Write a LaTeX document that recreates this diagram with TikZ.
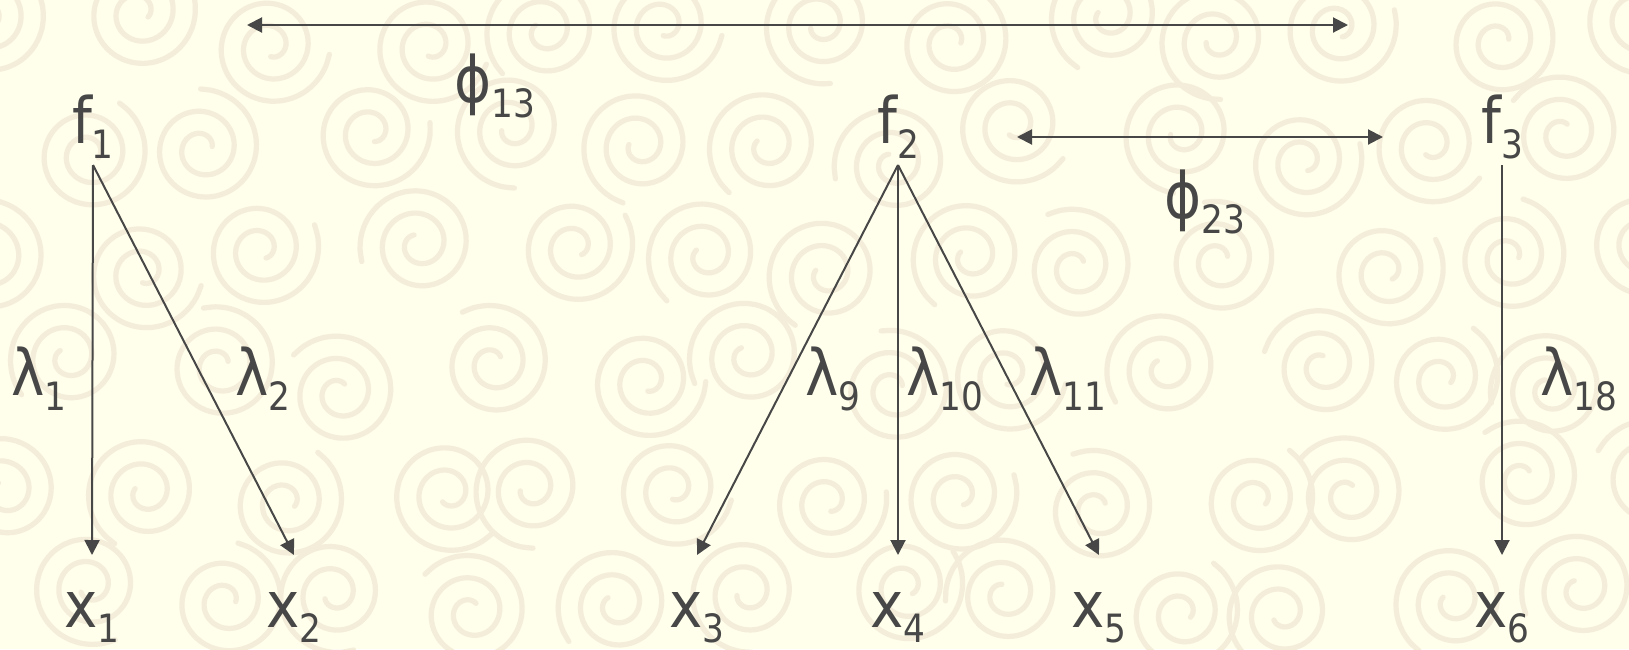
\documentclass[tikz,border=0pt]{standalone}
\usepackage{fontspec}
\setmainfont{DejaVu Sans}[FakeStretch=0.88]
\usetikzlibrary{arrows.meta}
\definecolor{bgcol}{HTML}{FFFFEB}
\definecolor{swirlcol}{HTML}{F3EDD9}
\definecolor{ink}{HTML}{474747}
\newcommand\mysub[1]{\raisebox{-7.5pt}{\fontsize{19.5}{20}\selectfont #1}}
\tikzset{
  swirlline/.style={draw=swirlcol, line width=2.6pt, line cap=round},
  swirl/.pic={\draw[swirlline] plot[domain=0:800, samples=70, smooth, variable=\t] ({\t}:{5pt+\t*0.031pt});},
  lbl/.style={inner sep=0pt, outer sep=0pt, anchor=base, text=ink, font=\fontsize{32}{36}\selectfont},
  fnode/.style={lbl, text depth=7.5pt},
  xnode/.style={lbl, text height=17.5pt},
  conn/.style={draw=ink, line width=1pt, -{Triangle[length=7.5pt,width=7.5pt]}},
  dconn/.style={draw=ink, line width=1pt, {Triangle[length=7.5pt,width=7.5pt]}-{Triangle[length=7.5pt,width=7.5pt]}}
}
\begin{document}
\begin{tikzpicture}[x=0.5pt, y=-0.5pt]
\useasboundingbox (0,0) rectangle (1629,649);
\fill[bgcol] (0,0) rectangle (1629,649);
\begin{scope}
\clip (0,0) rectangle (1629,649);
\pgfmathsetseed{23}
\foreach \j in {0,...,5}{
  \foreach \i in {0,...,12}{
    \pgfmathsetmacro\cx{15+\i*135+67*mod(\j,2)+rand*28}
    \pgfmathsetmacro\cy{30+\j*115+rand*20}
    \pgfmathsetmacro\rot{rnd*360}
    \pic[rotate=\rot] at (\cx,\cy) {swirl};
  }
}
\end{scope}

% factor nodes
\node[fnode] (f1) at (93,143) {f\mysub{1}};
\node[fnode] (f2) at (898,143) {f\mysub{2}};
\node[fnode] (f3) at (1502,143) {f\mysub{3}};

% variable nodes
\node[xnode] (x1) at (92,627) {x\mysub{1}};
\node[xnode] (x2) at (294,627) {x\mysub{2}};
\node[xnode] (x3) at (697,627) {x\mysub{3}};
\node[xnode] (x4) at (898,627) {x\mysub{4}};
\node[xnode] (x5) at (1099,627) {x\mysub{5}};
\node[xnode] (x6) at (1502,627) {x\mysub{6}};

% loadings
\draw[conn] ([yshift=-3.5pt]f1.south) -- ([yshift=18.5pt]x1.north);
\draw[conn] ([yshift=-3.5pt]f1.south) -- ([yshift=18.5pt]x2.north);
\draw[conn] ([yshift=-3.5pt]f2.south) -- ([yshift=18.5pt]x3.north);
\draw[conn] ([yshift=-3.5pt]f2.south) -- ([yshift=18.5pt]x4.north);
\draw[conn] ([yshift=-3.5pt]f2.south) -- ([yshift=18.5pt]x5.north);
\draw[conn] ([yshift=-3.5pt]f3.south) -- ([yshift=18.5pt]x6.north);

% loading labels
\node[lbl] (l1) at (39,395) {λ\mysub{1}};
\node[lbl] (l2) at (263,395) {λ\mysub{2}};
\node[lbl] (l9) at (833,395) {λ\mysub{9}};
\node[lbl] (l10) at (945,395) {λ\mysub{10}};
\node[lbl] (l11) at (1068,395) {λ\mysub{11}};
\node[lbl] (l18) at (1579,395) {λ\mysub{18}};

% factor correlations
\coordinate (c13a) at (247,25);
\coordinate (c13b) at (1348,25);
\coordinate (c23a) at (1017,137);
\coordinate (c23b) at (1383,137);
\draw[dconn] (c13a) -- (c13b);
\draw[dconn] (c23a) -- (c23b);
\node[lbl] (p13) at (495,102) {ϕ\mysub{13}};
\node[lbl] (p23) at (1205,218) {ϕ\mysub{23}};
\end{tikzpicture}
\end{document}
